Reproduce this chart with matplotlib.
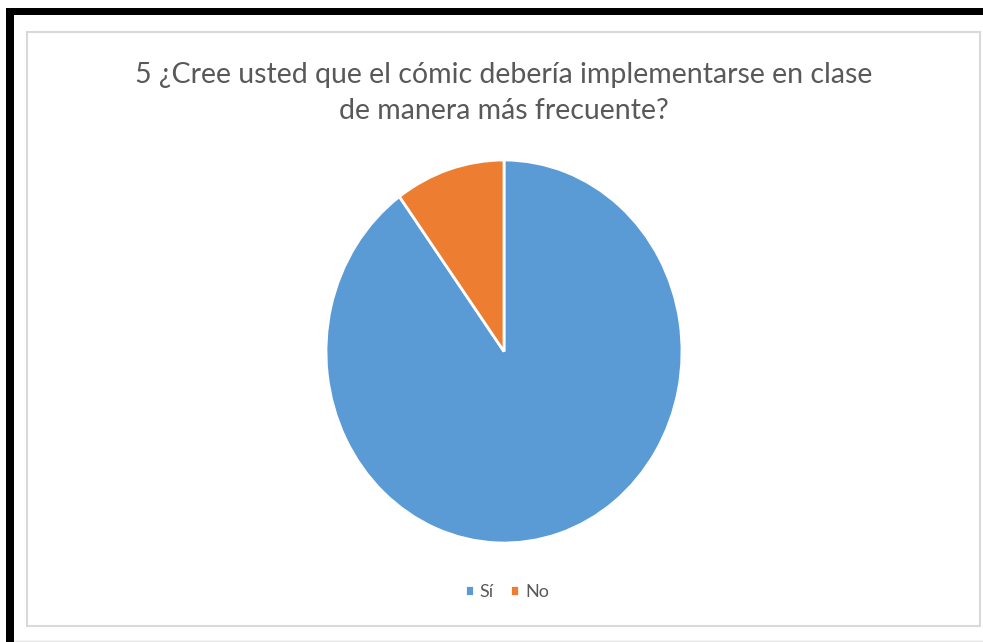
import matplotlib
matplotlib.use("Agg")
import matplotlib.pyplot as plt
from matplotlib.patches import Rectangle

labels = ["Sí", "No"]
values = [90, 10]
colors = ["#5B9BD5", "#ED7D31"]
title = "5 ¿Cree usted que el cómic debería implementarse en clase\nde manera más frecuente?"

W, H = 983, 642
fig = plt.figure(figsize=(W / 100, H / 100), dpi=100)
fig.patch.set_facecolor("white")


def px(x0, y0, w, h):
    # pixel box (top-left origin) -> figure fraction
    return [x0 / W, 1 - (y0 + h) / H, w / W, h / H]


# outer black frame (top and left only, the picture is cropped)
fig.add_artist(Rectangle((6 / W, 0), 8 / W, 1 - 8 / H, transform=fig.transFigure,
                         facecolor="black", edgecolor="none"))
fig.add_artist(Rectangle((6 / W, 1 - 15 / H), 1, 7 / H, transform=fig.transFigure,
                         facecolor="black", edgecolor="none"))
# chart area border
fig.add_artist(Rectangle((27 / W, 1 - 626 / H), (980 - 27) / W, (626 - 32) / H,
                         transform=fig.transFigure, facecolor="none",
                         edgecolor="#D9D9D9", linewidth=1.5))
fig.add_artist(Rectangle((14 / W, 1 - 641 / H), 1, 0, transform=fig.transFigure,
                         facecolor="none", edgecolor="#E6E6E6", linewidth=1))

ax = fig.add_axes(px(326, 160, 356, 383))
wedges, _ = ax.pie(values, colors=colors, startangle=90, counterclock=False,
                   wedgeprops=dict(edgecolor="white", linewidth=2))
ax.set_aspect("auto")
ax.set_xlim(-1, 1)
ax.set_ylim(-1, 1)
ax.axis("off")

fig.text(504 / W, 1 - 93 / H, title, ha="center", va="center", fontsize=20.5,
         color="#595959", family="Lato", linespacing=1.5)

fig.legend(wedges, labels, loc="center", bbox_to_anchor=(507 / W, 1 - 592 / H),
           ncol=2, frameon=False, handlelength=0.5, handleheight=0.5,
           handletextpad=0.35, columnspacing=0.9,
           prop=dict(family="Lato", size=13), labelcolor="#595959")

fig.savefig("out.png", dpi=100, facecolor="white")
